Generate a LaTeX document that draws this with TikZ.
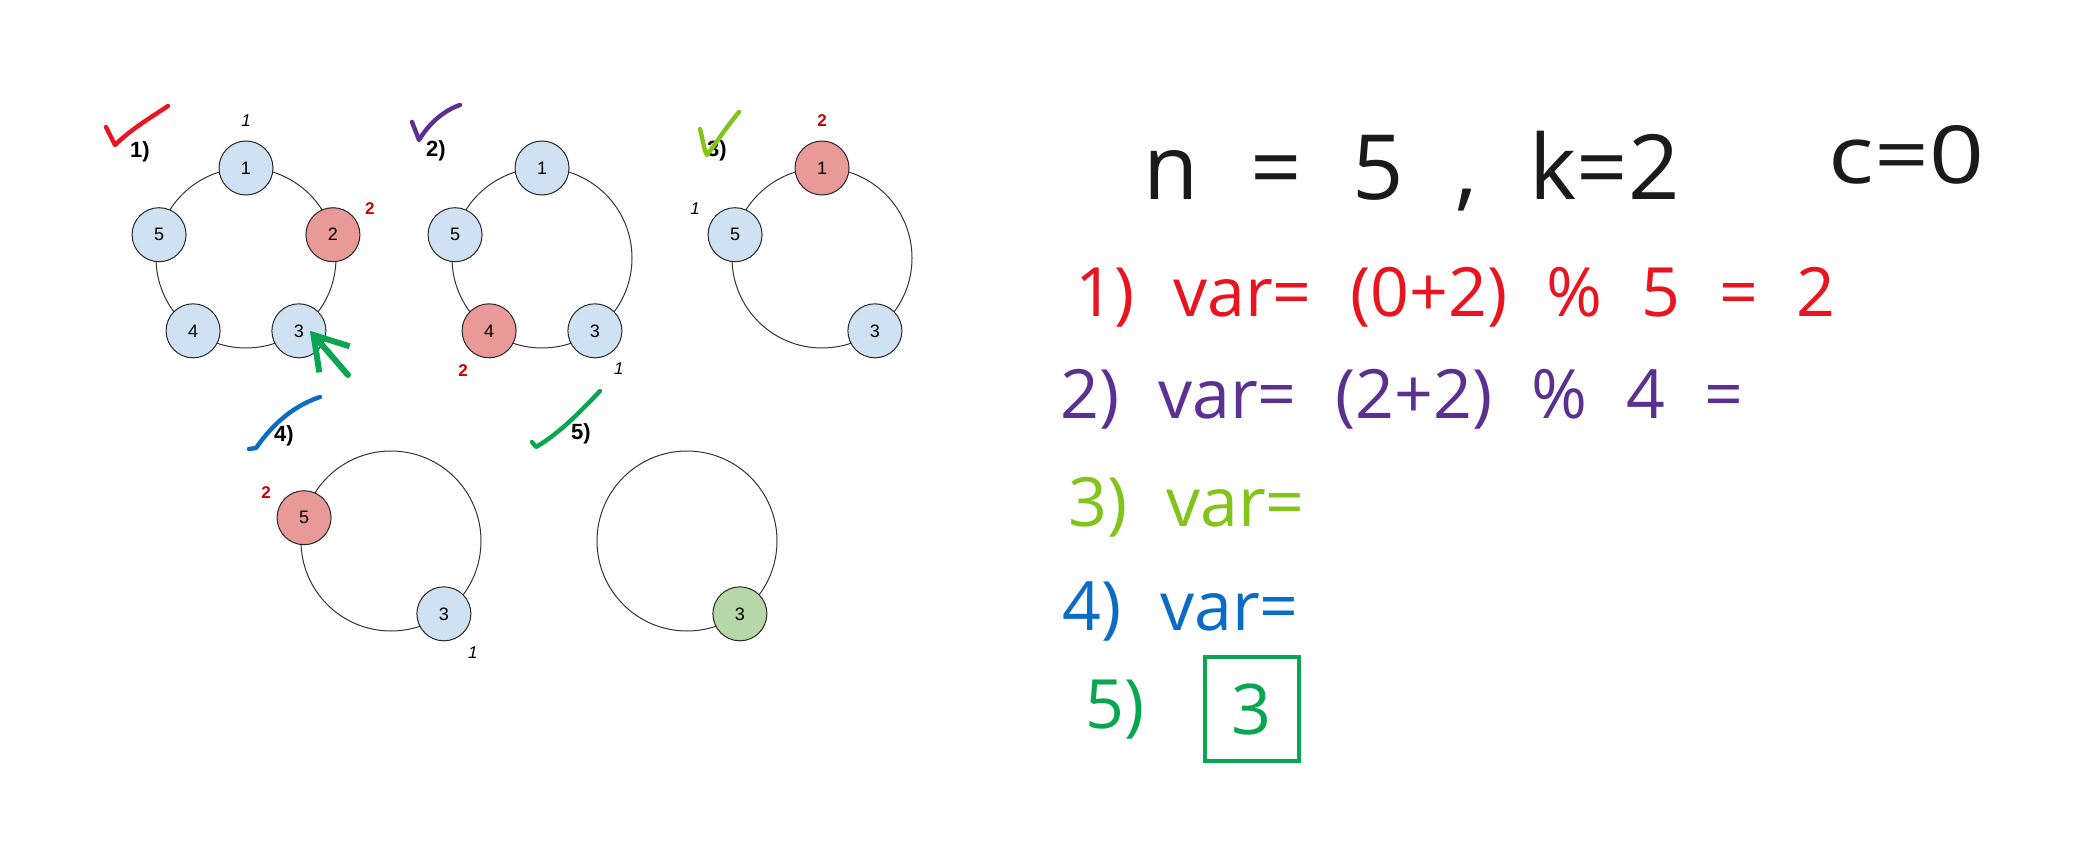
\documentclass[tikz,border=0pt]{standalone}
\usepackage{fontspec}
\setmainfont{Liberation Sans}
\newfontfamily\inkfont[WordSpace=2.2]{Open Sans}
\usetikzlibrary{positioning, calc, arrows.meta}
\definecolor{personblue}{HTML}{CFE2F3}
\definecolor{personred}{HTML}{EA9999}
\definecolor{persongreen}{HTML}{B6D7A8}
\definecolor{countred}{HTML}{CC0000}
\definecolor{inkred}{HTML}{E8141F}
\definecolor{inkpurple}{HTML}{5B3090}
\definecolor{inklime}{HTML}{82C41A}
\definecolor{inkblue}{HTML}{0A6CC4}
\definecolor{inkgreen}{HTML}{09A550}
\definecolor{inkblack}{HTML}{1A1A1A}
\newcommand{\inksize}[1]{\inkfont\fontsize{#1}{#1}\selectfont}
\tikzstyle{person} = [
  circle, minimum size=27pt, inner sep=0pt,
  draw=black!85, line width=0.5pt,
  fill=personblue, font=\fontsize{9}{10}\selectfont
]
\tikzstyle{victim} = [person, fill=personred]
\tikzstyle{survivor} = [person, fill=persongreen]
\tikzstyle{ring} = [draw=black!80, line width=0.5pt]
\tikzstyle{roundlabel} = [inner sep=0pt, font=\bfseries\fontsize{11}{12}\selectfont]
\tikzstyle{killcount} = [inner sep=0pt, text=countred,
  font=\bfseries\fontsize{8.5}{10}\selectfont]
\tikzstyle{startcount} = [inner sep=0pt, font=\itshape\fontsize{8.5}{10}\selectfont]
\tikzstyle{tick} = [line width=2.2pt, line cap=round, line join=round]
\tikzstyle{ink} = [anchor=base west, inner sep=0pt, font=\inksize{34}]
\tikzstyle{answerbox} = [
  draw=inkgreen, line width=2pt, text=inkgreen,
  minimum width=47pt, minimum height=52pt, inner sep=0pt,
  font=\inksize{35}
]

\begin{document}
\begin{tikzpicture}[x=0.5pt, y=0.5pt, >=Stealth]
  \useasboundingbox (0,0) rectangle (2097,-866);

  \coordinate (c1) at (246,-258);
  \draw[ring] (c1) circle[radius=45pt];
  \node[person] (n11) at ($(c1)+(90:90)$)  {1};
  \node[victim] (n12) at ($(c1)+(15:90)$)  {2};
  \node[person] (n13) at ($(c1)+(306:90)$) {3};
  \node[person] (n14) at ($(c1)+(234:90)$) {4};
  \node[person] (n15) at ($(c1)+(165:90)$) {5};
  \node[roundlabel] (t1) at (140,-152) {1)};
  \node[startcount] (s1) at ($(n11)+(0,47)$) {1};
  \node[killcount] (k1) at ($(n12)+(37,26)$) {2};
  \draw[tick, inkred] (106,-127) -- (115,-145)
    .. controls (130,-130) and (150,-118) .. (168,-106);
  \coordinate (arrowtail) at (348,-375);
  \draw[tick, inkgreen, line width=3pt,
        -{Straight Barb[length=16pt, width=20pt]}]
    (arrowtail) -- ($(n13)+(11,0)$);

  \coordinate (c2) at (542,-258);
  \draw[ring] (c2) circle[radius=45pt];
  \node[person] (n21) at ($(c2)+(90:90)$)  {1};
  \node[person] (n23) at ($(c2)+(306:90)$) {3};
  \node[victim] (n24) at ($(c2)+(234:90)$) {4};
  \node[person] (n25) at ($(c2)+(165:90)$) {5};
  \node[roundlabel] (t2) at (436,-151) {2)};
  \node[killcount] (k2) at ($(n24)+(-26,-40)$) {2};
  \node[startcount] (s2) at ($(n23)+(24,-38)$) {1};
  \draw[tick, inkpurple] (412,-122) -- (419,-140)
    .. controls (430,-122) and (445,-110) .. (460,-105);

  \coordinate (c3) at (822,-258);
  \draw[ring] (c3) circle[radius=45pt];
  \node[victim] (n31) at ($(c3)+(90:90)$)  {1};
  \node[person] (n33) at ($(c3)+(306:90)$) {3};
  \node[person] (n35) at ($(c3)+(165:90)$) {5};
  \node[roundlabel] (t3) at (717,-151) {3)};
  \node[killcount] (k3) at ($(n31)+(0,47)$) {2};
  \node[startcount] (s3) at ($(n35)+(-40,26)$) {1};
  \draw[tick, inklime] (700,-129) .. controls (703,-140) and (704,-150) .. (707,-155)
    .. controls (718,-140) and (728,-125) .. (739,-112);

  \coordinate (c4) at (391,-541);
  \draw[ring] (c4) circle[radius=45pt];
  \node[person] (n43) at ($(c4)+(306:90)$) {3};
  \node[victim] (n45) at ($(c4)+(165:90)$) {5};
  \node[roundlabel] (t4) at (284,-436) {4)};
  \node[killcount] (k4) at ($(n45)+(-38,25)$) {2};
  \node[startcount] (s4) at ($(n43)+(29,-39)$) {1};
  \draw[tick, inkblue] (249,-449) -- (256,-448)
    .. controls (270,-428) and (290,-407) .. (320,-397);

  \coordinate (c5) at (687,-541);
  \draw[ring] (c5) circle[radius=45pt];
  \node[survivor] (n53) at ($(c5)+(306:90)$) {3};
  \node[roundlabel] (t5) at (581,-434) {5)};
  \draw[tick, inkgreen] (532,-442) -- (536,-447)
    .. controls (560,-433) and (582,-410) .. (600,-391);

  \node[ink, text=inkblack, font=\inksize{45}]
    (given) at (1143,-200) {n = 5 , k=2};
  \node[ink, text=inkblack, font=\inksize{40}, xscale=1.2]
    (counter) at (1828,-184) {c=0};

  \node[ink, text=inkred]    (line1) at (1075,-316) {1) var= (0+2) \% 5 = 2};
  \node[ink, text=inkpurple] (line2) at (1060,-418) {2) var= (2+2) \% 4 =};
  \node[ink, text=inklime]   (line3) at (1068,-526) {3) var=};
  \node[ink, text=inkblue]   (line4) at (1062,-630) {4) var=};
  \node[ink, text=inkgreen]  (line5) at (1085,-728) {5)};
  \node[answerbox, right=29pt of line5] (answer) {3};

\end{tikzpicture}
\end{document}
